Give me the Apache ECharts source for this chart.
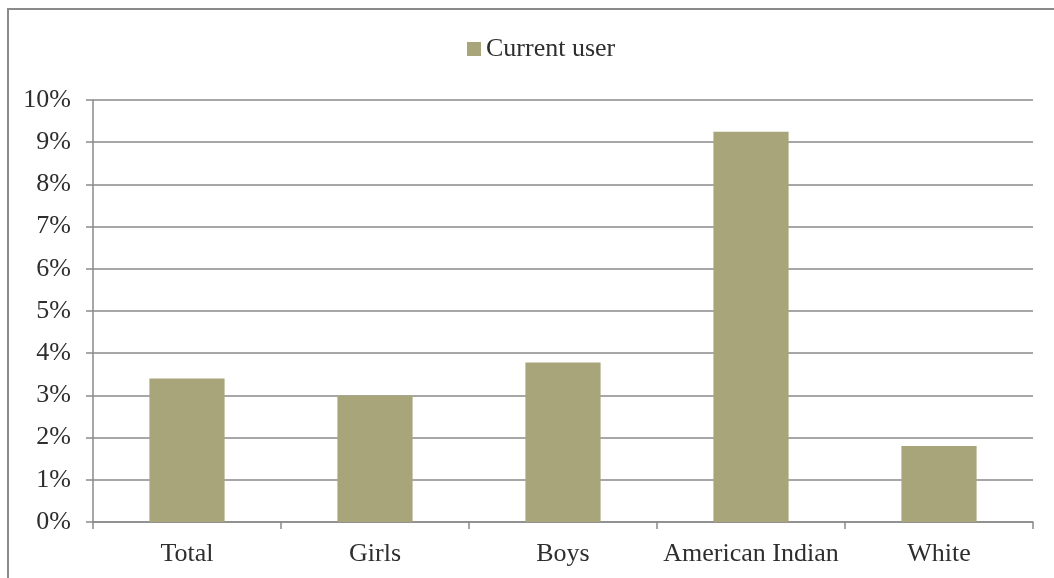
<!DOCTYPE html>
<html>
<head>
<meta charset="utf-8">
<script src="https://cdn.jsdelivr.net/npm/echarts@6/dist/echarts.min.js"></script>
<style>
html,body{margin:0;padding:0;background:#fff;}
#frame{position:absolute;left:7px;top:8px;width:1100px;height:600px;border:2px solid #8a8a8a;box-sizing:border-box;}
#chart{position:absolute;left:0;top:0;width:1054px;height:578px;}
</style>
</head>
<body>
<div id="frame"></div>
<div id="chart"></div>
<script>
const categories = ['Total', 'Girls', 'Boys', 'American Indian', 'White'];
const seriesName = 'Current user';
const currentUser = [3.4, 3.0, 3.78, 9.25, 1.8];
const yTicks = [0, 1, 2, 3, 4, 5, 6, 7, 8, 9, 10];

const font = '"Liberation Serif", "DejaVu Serif", serif';
const textColor = '#2e2e2e';
const lineColor = '#8a8a8a';
const barColor = '#a8a57b';

const chart = echarts.init(document.getElementById('chart'), null, {renderer: 'canvas'});
chart.setOption({
  animation: false,
  backgroundColor: 'transparent',
  textStyle: {fontFamily: font},
  legend: {
    data: [seriesName],
    left: 462,
    top: 31,
    itemWidth: 14,
    itemHeight: 14,
    itemGap: 8,
    icon: 'rect',
    textStyle: {fontFamily: font, fontSize: 26, color: textColor}
  },
  grid: {left: 93, right: 21, top: 100, bottom: 56, containLabel: false},
  xAxis: {
    type: 'category',
    data: categories,
    axisLine: {lineStyle: {color: lineColor, width: 1.5}},
    axisTick: {show: true, interval: 0, length: 7, lineStyle: {color: lineColor, width: 1.5}},
    axisLabel: {interval: 0, fontFamily: font, fontSize: 26, color: textColor, margin: 19}
  },
  yAxis: {
    type: 'value',
    min: yTicks[0],
    max: yTicks[yTicks.length - 1],
    interval: 1,
    axisLine: {show: true, lineStyle: {color: lineColor, width: 1.5}},
    axisTick: {show: true, length: 7, lineStyle: {color: lineColor, width: 1.5}},
    splitLine: {show: true, lineStyle: {color: lineColor, width: 1.5}},
    axisLabel: {fontFamily: font, fontSize: 26, color: textColor, margin: 22, formatter: v => v + '%'}
  },
  series: [{
    name: seriesName,
    type: 'bar',
    data: currentUser,
    barWidth: '40%',
    itemStyle: {color: barColor}
  }]
});
</script>
</body>
</html>
